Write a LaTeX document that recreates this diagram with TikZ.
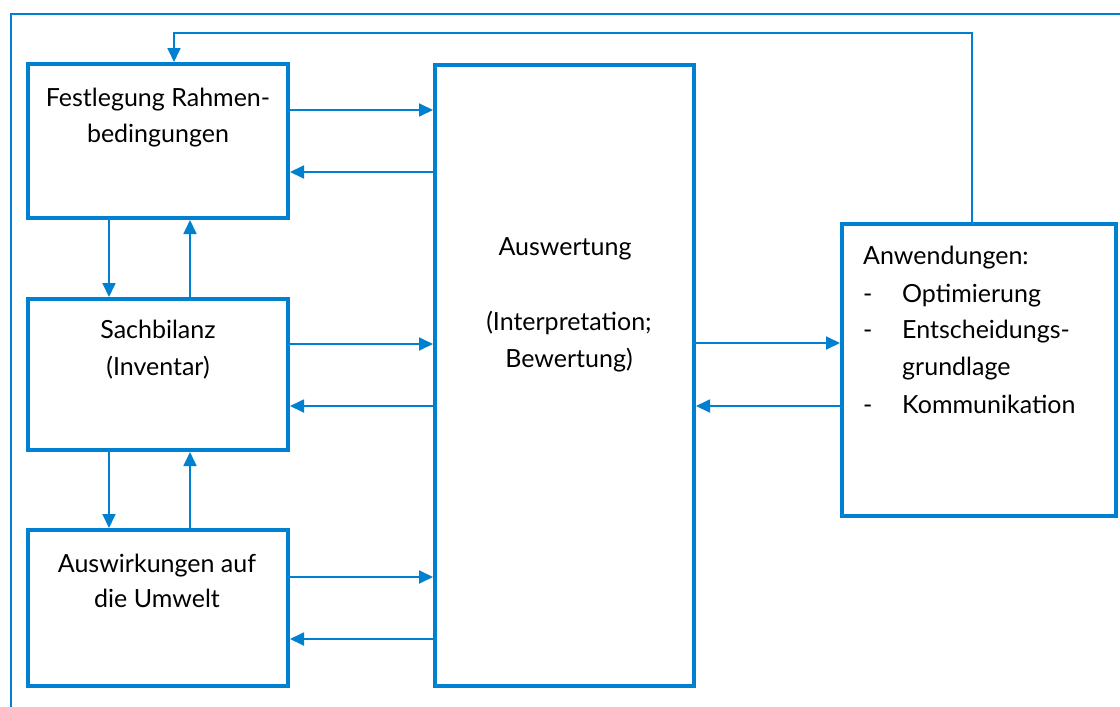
\documentclass[tikz,border=0pt]{standalone}
\usepackage{fontspec}
\setmainfont{Lato}
\usetikzlibrary{arrows.meta}
\definecolor{lineblue}{RGB}{0,128,208}
\begin{document}
\begin{tikzpicture}[x=1pt,y=-1pt,
  box/.style={draw=lineblue,line width=4pt,inner sep=0pt,outer sep=2pt},
  conn/.style={draw=lineblue,line width=1.8pt,-{Triangle[length=14pt,width=13pt]}},
  frame/.style={draw=lineblue,line width=1.6pt},
  txt/.style={anchor=base,font=\fontsize{25}{36}\selectfont,inner sep=0pt,text=black},
  ltxt/.style={txt,anchor=base west}]
\useasboundingbox (0,0) rectangle (1120,707);
% outer frame
\coordinate (f1) at (11,707);
\coordinate (f2) at (11,14);
\coordinate (f3) at (1120,14);
\draw[frame] (f1) -- (f2) -- (f3);
% boxes
\node[box,minimum width=260pt,minimum height=154pt] (b1) at (158,141) {};
\node[box,minimum width=260pt,minimum height=151pt] (b2) at (158,374.5) {};
\node[box,minimum width=260pt,minimum height=156pt] (b3) at (158,608) {};
\node[box,minimum width=259pt,minimum height=621pt] (aus) at (564.5,375.5) {};
\node[box,minimum width=274pt,minimum height=292pt] (anw) at (979,370) {};
% texts
\node[txt] (t11) at (158,106) {Festlegung Rahmen-};
\node[txt] (t12) at (158,142) {bedingungen};
\node[txt] (t21) at (158,338) {Sachbilanz};
\node[txt] (t22) at (158,375) {(Inventar)};
\node[txt] (t31) at (157,572) {Auswirkungen auf};
\node[txt] (t32) at (157,607) {die Umwelt};
\node[txt] (ta1) at (565,255) {Auswertung};
\node[txt] (ta2) at (569,330) {(Interpretation;};
\node[txt] (ta3) at (569,367) {Bewertung)};
\node[ltxt] (tw0) at (863,264) {Anwendungen:};
\node[ltxt] (tw1d) at (863,302) {-};
\node[ltxt] (tw1) at (902,302) {Optimierung};
\node[ltxt] (tw2d) at (863,338) {-};
\node[ltxt] (tw2) at (902,338) {Entscheidungs-};
\node[ltxt] (tw3) at (902,375) {grundlage};
\node[ltxt] (tw4d) at (863,413) {-};
\node[ltxt] (tw4) at (902,413) {Kommunikation};
% horizontal connectors
\draw[conn] (b1.east |- 0,110) -- (aus.west |- 0,110);
\draw[conn] (aus.west |- 0,172) -- (b1.east |- 0,172);
\draw[conn] (b2.east |- 0,344) -- (aus.west |- 0,344);
\draw[conn] (aus.west |- 0,406) -- (b2.east |- 0,406);
\draw[conn] (b3.east |- 0,577) -- (aus.west |- 0,577);
\draw[conn] (aus.west |- 0,639) -- (b3.east |- 0,639);
\draw[conn] (aus.east |- 0,343) -- (anw.west |- 0,343);
\draw[conn] (anw.west |- 0,406) -- (aus.east |- 0,406);
% vertical connectors
\draw[conn] (b1.south -| 109,0) -- (b2.north -| 109,0);
\draw[conn] (b2.north -| 190,0) -- (b1.south -| 190,0);
\draw[conn] (b2.south -| 109,0) -- (b3.north -| 109,0);
\draw[conn] (b3.north -| 190,0) -- (b2.south -| 190,0);
% feedback
\coordinate (fb1) at (972,33);
\coordinate (fb2) at (174,33);
\draw[conn] (anw.north -| fb1) -- (fb1) -- (fb2) -- (b1.north -| fb2);
\end{tikzpicture}
\end{document}
